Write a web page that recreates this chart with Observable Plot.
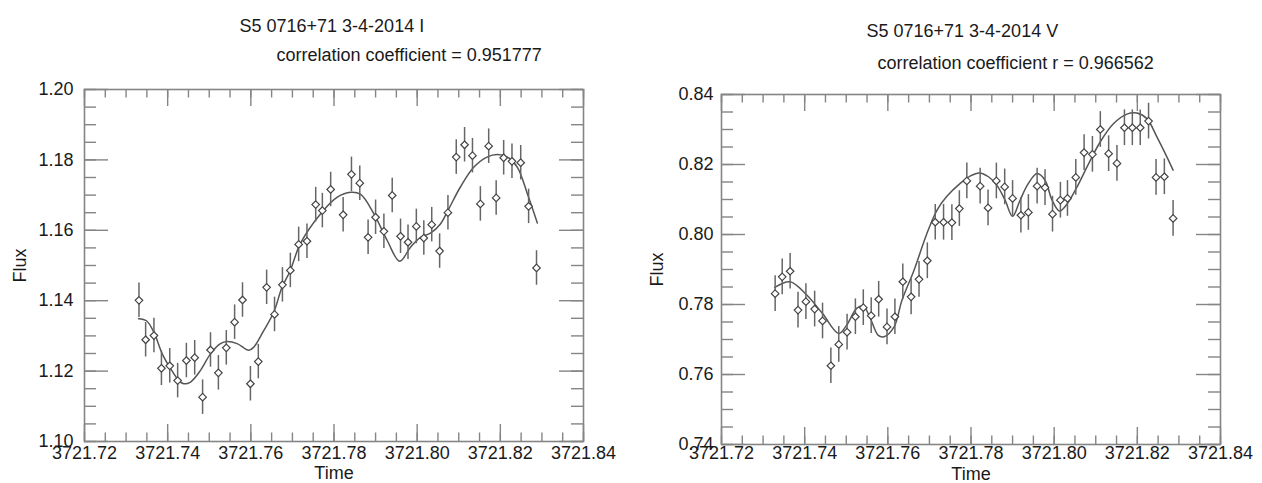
<!DOCTYPE html>
<html><head><meta charset="utf-8">
<script src="https://cdn.jsdelivr.net/npm/d3@7"></script>
<script src="https://cdn.jsdelivr.net/npm/@observablehq/plot@0.6"></script>
<style>
body{margin:0;background:#fff;}
#wrap{display:flex;width:1262px;height:483px;overflow:hidden;}
#wrap svg{font-family:"Liberation Sans",Arial,Helvetica,sans-serif;}
</style></head><body><div id="wrap"></div>
<script>
// ---------- data: I band ----------
const timeI = [3721.7331,3721.7347,3721.7367,3721.7385,3721.7405,3721.7424,3721.7445,3721.7465,3721.7484,3721.7503,
  3721.7522,3721.7541,3721.7561,3721.7580,3721.7599,3721.7618,3721.7638,3721.7657,3721.7676,3721.7695,
  3721.7715,3721.7735,3721.7756,3721.7772,3721.7792,3721.7822,3721.7842,3721.7862,3721.7882,3721.7900,
  3721.7920,3721.7940,3721.7960,3721.7978,3721.7998,3721.8016,3721.8035,3721.8054,3721.8074,3721.8094,
  3721.8114,3721.8133,3721.8152,3721.8172,3721.8190,3721.8208,3721.8228,3721.8249,3721.8268,3721.8287];
const fluxI = [1.1401,1.1289,1.1301,1.1208,1.1215,1.1173,1.1230,1.1238,1.1126,1.1260,
  1.1195,1.1266,1.1339,1.1402,1.1164,1.1227,1.1438,1.1361,1.1445,1.1486,
  1.1560,1.1569,1.1673,1.1656,1.1716,1.1644,1.1759,1.1734,1.1580,1.1637,
  1.1597,1.1699,1.1583,1.1566,1.1611,1.1578,1.1616,1.1541,1.1650,1.1808,
  1.1843,1.1812,1.1675,1.1839,1.1692,1.1806,1.1796,1.1792,1.1668,1.1493];
const errI = 0.0049;
const fitTimeI = [3721.7330,3721.7349,3721.7367,3721.7387,3721.7407,3721.7427,3721.7439,3721.7455,3721.7479,3721.7503,
  3721.7527,3721.7543,3721.7567,3721.7595,3721.7607,3721.7631,3721.7655,3721.7675,3721.7695,3721.7719,
  3721.7768,3721.7808,3721.7840,3721.7864,3721.7896,3721.7928,3721.7958,3721.7984,3721.8008,3721.8032,
  3721.8056,3721.8076,3721.8104,3721.8136,3721.8168,3721.8193,3721.8217,3721.8241,3721.8265,3721.8289];
const fitFluxI = [1.1349,1.1343,1.1310,1.1249,1.1207,1.1173,1.1164,1.1169,1.1202,1.1249,
  1.1278,1.1284,1.1278,1.1259,1.1268,1.1315,1.1367,1.1438,1.1486,1.1562,
  1.1647,1.1694,1.1708,1.1702,1.1647,1.1571,1.1512,1.1552,1.1580,1.1592,
  1.1618,1.1661,1.1723,1.1779,1.1808,1.1815,1.1808,1.1779,1.1704,1.1621];

// ---------- data: V band ----------
const timeV = [3721.7329,3721.7346,3721.7365,3721.7384,3721.7403,3721.7424,3721.7443,3721.7463,3721.7482,3721.7502,
  3721.7522,3721.7541,3721.7560,3721.7578,3721.7598,3721.7617,3721.7636,3721.7656,3721.7675,3721.7695,
  3721.7714,3721.7734,3721.7754,3721.7772,3721.7790,3721.7822,3721.7841,3721.7861,3721.7881,3721.7900,
  3721.7920,3721.7938,3721.7959,3721.7978,3721.7996,3721.8015,3721.8032,3721.8052,3721.8072,3721.8092,
  3721.8111,3721.8131,3721.8151,3721.8169,3721.8188,3721.8207,3721.8227,3721.8245,3721.8265,3721.8286];
const fluxV = [0.7831,0.7879,0.7895,0.7784,0.7808,0.7787,0.7753,0.7625,0.7686,0.7721,
  0.7765,0.7791,0.7768,0.7815,0.7736,0.7765,0.7865,0.7822,0.7872,0.7925,
  0.8035,0.8035,0.8034,0.8074,0.8153,0.8138,0.8076,0.8153,0.8136,0.8103,
  0.8055,0.8063,0.8138,0.8134,0.8058,0.8098,0.8103,0.8163,0.8234,0.8229,
  0.8300,0.8231,0.8203,0.8305,0.8305,0.8305,0.8324,0.8163,0.8165,0.8046];
const errV = 0.0051;
const fitTimeV = [3721.7328,3721.7365,3721.7405,3721.7443,3721.7482,3721.7501,3721.7525,3721.7541,3721.7558,3721.7577,
  3721.7591,3721.7615,3721.7634,3721.7663,3721.7694,3721.7718,3721.7742,3721.7774,3721.7798,3721.7820,
  3721.7842,3721.7862,3721.7882,3721.7900,3721.7918,3721.7938,3721.7959,3721.7978,3721.7995,3721.8013,
  3721.8032,3721.8055,3721.8079,3721.8111,3721.8143,3721.8175,3721.8199,3721.8223,3721.8247,3721.8271,3721.8286];
const fitFluxV = [0.7849,0.7865,0.7827,0.7774,0.7717,0.7741,0.7789,0.7796,0.7760,0.7712,
  0.7708,0.7736,0.7812,0.7898,0.8003,0.8069,0.8109,0.8146,0.8167,0.8176,
  0.8165,0.8141,0.8098,0.8052,0.8098,0.8146,0.8174,0.8155,0.8098,0.8067,
  0.8089,0.8136,0.8193,0.8265,0.8317,0.8344,0.8347,0.8331,0.8279,0.8222,0.8184];

// ---------- ticks & text ----------
const xDomain = [3721.72, 3721.84];
const xMajor = [3721.72,3721.74,3721.76,3721.78,3721.80,3721.82,3721.84];
const yMajorI = [1.10,1.12,1.14,1.16,1.18,1.20];
const yMajorV = [0.74,0.76,0.78,0.80,0.82,0.84];
const titleI = "S5 0716+71 3-4-2014 I";
const corrI = "correlation coefficient = 0.951777";
const titleV = "S5 0716+71 3-4-2014 V";
const corrV = "correlation coefficient r = 0.966562";
const xLabel = "Time", yLabel = "Flux";

const FRAME = "#858585", INK = "#555", TXT = "#1a1a1a";

function minors(a, b, step) {
  const n = Math.round((b - a) / step);
  return d3.range(n + 1).map(i => +(a + i * step).toFixed(4));
}

function panel(o) {
  const H = 483, W = 631;
  const fh = H - o.mt - o.mb;
  const fw = W - o.ml - o.mr;
  const rows = o.t.map((t, i) => ({t, f: o.f[i]}));
  const fit = o.ft.map((t, i) => ({t, f: o.ff[i]}));
  const xMin = minors(xDomain[0], xDomain[1], 0.005);
  const yMin = minors(o.yDomain[0], o.yDomain[1], 0.005);
  return Plot.plot({
    width: W, height: H,
    marginLeft: o.ml, marginRight: o.mr, marginTop: o.mt, marginBottom: o.mb,
    x: {domain: xDomain},
    y: {domain: o.yDomain},
    style: {fontFamily: '"Liberation Sans",Arial,Helvetica,sans-serif', fontSize: "18px", color: TXT, background: "#fff", overflow: "visible"},
    marks: [
      // ticks (inward, on all four sides)
      Plot.ruleX(xMin, {x: d => d, stroke: FRAME, strokeWidth: 1.4, insetTop: fh - 8.5}),
      Plot.ruleX(xMin, {x: d => d, stroke: FRAME, strokeWidth: 1.4, insetBottom: fh - 8.5}),
      Plot.ruleX(xMajor, {x: d => d, stroke: FRAME, strokeWidth: 1.4, insetTop: fh - 17}),
      Plot.ruleX(xMajor, {x: d => d, stroke: FRAME, strokeWidth: 1.4, insetBottom: fh - 17}),
      Plot.ruleY(yMin, {y: d => d, stroke: FRAME, strokeWidth: 1.4, insetRight: fw - 12}),
      Plot.ruleY(yMin, {y: d => d, stroke: FRAME, strokeWidth: 1.4, insetLeft: fw - 12}),
      Plot.ruleY(o.yMajor, {y: d => d, stroke: FRAME, strokeWidth: 1.4, insetRight: fw - 24}),
      Plot.ruleY(o.yMajor, {y: d => d, stroke: FRAME, strokeWidth: 1.4, insetLeft: fw - 24}),
      Plot.frame({stroke: FRAME, strokeWidth: 1.6}),
      // tick labels
      Plot.axisX(xMajor, {anchor: "bottom", tickSize: 0, tickPadding: o.xpad, tickFormat: d => d.toFixed(2), label: null, fontSize: 18, fill: TXT}),
      Plot.axisY(o.yMajor, {anchor: "left", tickSize: 0, tickPadding: o.ypad, tickFormat: d => d.toFixed(2), label: null, fontSize: 18, fill: TXT}),
      // fitted curve
      Plot.line(fit, {x: "t", y: "f", curve: "catmull-rom", stroke: INK, strokeWidth: 1.5}),
      // error bars
      Plot.ruleX(rows, {x: "t", y1: d => d.f - o.err, y2: d => d.f + o.err, stroke: "#666", strokeWidth: 1.5}),
      // points
      Plot.dot(rows, {x: "t", y: "f", symbol: "diamond2", r: 3.4, stroke: "#444", strokeWidth: 1.2, fill: "#fff"}),
      // titles & axis labels
      Plot.text([o.title], {frameAnchor: "top-left", dx: o.tdx, dy: o.tdy, textAnchor: "start", lineAnchor: "bottom", fontSize: 18, fill: TXT}),
      Plot.text([o.corr], {frameAnchor: "top-left", dx: o.cdx, dy: o.cdy, textAnchor: "start", lineAnchor: "bottom", fontSize: 18, fill: TXT}),
      Plot.text([xLabel], {frameAnchor: "bottom", dy: o.xldy, lineAnchor: "bottom", fontSize: 18, fill: TXT}),
      Plot.text([yLabel], {frameAnchor: "left", dx: -64, rotate: -90, textAnchor: "middle", lineAnchor: "middle", fontSize: 18, fill: TXT})
    ]
  });
}

const wrap = document.getElementById("wrap");
wrap.appendChild(panel({
  t: timeI, f: fluxI, err: errI, ft: fitTimeI, ff: fitFluxI,
  yDomain: [1.10, 1.20], yMajor: yMajorI,
  ml: 84, mr: 48, mt: 89, mb: 42, ypad: 11, xpad: 5,
  title: titleI, corr: corrI, tdx: 155, tdy: -58, cdx: 192, cdy: -29, xldy: 37
}));
wrap.appendChild(panel({
  t: timeV, f: fluxV, err: errV, ft: fitTimeV, ff: fitFluxV,
  yDomain: [0.74, 0.84], yMajor: yMajorV,
  ml: 90, mr: 42, mt: 94, mb: 39, ypad: 8, xpad: 2,
  title: titleV, corr: corrV, tdx: 145, tdy: -58, cdx: 156, cdy: -26, xldy: 35
}));
</script>
</body></html>
